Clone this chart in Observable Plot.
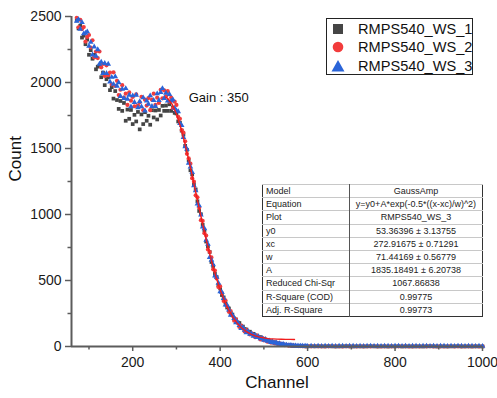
<!DOCTYPE html>
<html>
<head>
<meta charset="utf-8">
<script src="https://cdn.jsdelivr.net/npm/d3@7"></script>
<script src="https://cdn.jsdelivr.net/npm/@observablehq/plot@0.6"></script>
<style>
  body { margin: 0; background: #fff; font-family: Arial, "Liberation Sans", sans-serif; }
  #wrap { position: relative; width: 497px; height: 398px; }
  #legend { position: absolute; left: 326px; top: 18px; width: 147px; height: 57px; border: 1px solid #222; background: #fff; box-sizing: border-box; }
  .lrow { position: absolute; left: 0; height: 18px; font-size: 14.6px; color: #111; white-space: nowrap; }
  .lrow svg { position: absolute; left: 4px; top: 2px; }
  .lrow span { position: absolute; left: 31px; top: 0; line-height: 18px; }
  #fit { position: absolute; left: 262px; top: 184px; border-collapse: collapse; border: 1.5px solid #333; background: #fff; font-size: 9px; color: #222; }
  #fit td { height: 12.2px; padding: 0 3px; border-top: 1px solid #c8c8c8; line-height: 12px; white-space: nowrap; }
  #fit td:first-child { width: 80px; border-right: 1.5px solid #555; }
  #fit td:last-child { width: 126px; text-align: center; }
</style>
</head>
<body>
<div id="wrap"></div>
<script>
// ---- data ----
const channels = [72,76,80,84,88,92,96,100,104,108,112,116,120,124,128,132,136,140,144,148,152,156,160,164,168,172,176,180,184,188,192,196,200,204,208,212,216,220,224,228,232,236,240,244,248,252,256,260,264,268,272,276,280,284,288,292,296,300,304,308,312,316,320,324,328,332,336,340,344,348,352,356,360,364,368,372,376,380,384,388,392,396,400,404,408,412,416,420,424,428,432,436,440,444,448,452,456,460,464,468,472,476,480,484,488,492,496,500,504,508,512,516,520,524,528,532,536,540,544,548,552,556,560,564,568,572,576,580,584,588,592,596,600];

const ws1 = [2470,2410,2430,2340,2355,2290,2325,2210,2245,2180,2210,2100,2120,2128,2040,2075,1980,2025,2040,1942,1965,1878,1935,1867,1800,1860,1785,1845,1710,1795,1725,1792,1685,1755,1705,1777,1645,1758,1685,1775,1710,1748,1680,1790,1735,1788,1720,1792,1750,1823,1785,1825,1785,1835,1785,1810,1770,1765,1705,1695,1635,1605,
  1520,1490,1410,1335,1305,1229,1190,1100,1027,1002,921,878,795,760,716,640,610,550,526,465,440,390,372,333,295,288,255,242,213,205,182,178,157,151,132,129,112,112,96,96,83,83,71,71,60,59,48,49,39,40,32,32,25,25,20,19,14,14,11,10,8,7,6,5,4,4,3,3,2,2,1];

const ws2 = [2490,2418,2475,2405,2420,2310,2345,2360,2265,2320,2190,2235,2185,2235,2115,2140,2050,2130,2055,2075,1985,2077,1975,2013,1905,1945,1980,1885,1915,1830,1925,1862,1890,1820,1910,1825,1850,1892,1790,1870,1825,1882,1790,1870,1915,1830,1885,1845,1945,1880,1940,1895,1935,1855,1885,1805,1855,1830,1740,1725,1640,1620,
  1555,1460,1425,1385,1275,1249,1145,1130,1052,957,951,858,840,735,716,675,585,575,516,450,455,405,345,350,305,263,268,233,195,205,180,148,159,137,114,125,110,91,100,86,70,82,72,53,66,47,53,36,46,30,36,24,29,18,23,13,17,10,13,7,10,5,7,4,5,3,3,2,3,1,1];

const ws3 = [2465,2478,2405,2455,2370,2375,2385,2275,2305,2210,2270,2200,2250,2140,2155,2070,2145,2070,2140,2005,2040,1987,2045,1973,2000,1895,1950,1880,1955,1875,1905,1817,1900,1850,1905,1810,1855,1817,1885,1785,1860,1837,1900,1820,1865,1820,1915,1865,1925,1955,1880,1920,1860,1910,1860,1870,1805,1785,1780,1690,1675,1585,
  1515,1495,1390,1360,1320,1219,1180,1080,1067,997,906,893,805,775,676,655,620,535,526,480,415,410,365,315,312,277,238,238,213,180,184,161,137,143,124,106,113,94,96,79,85,70,74,59,63,48,54,41,44,32,35,27,30,20,22,15,18,11,12,8,10,7,5,6,4,3,4,3,1,3,1];

// flat tail beyond channel 600
const tailChannels = [608,616,624,632,640,648,656,664,672,680,688,696,704,712,720,728,736,744,752,760,768,776,784,792,800,808,816,824,832,840,848,856,864,872,880,888,896,904,912,920,928,936,944,952,960,968,976,984,992,1000];
const tail1 = [2,1,2,1,1,2,1,0,1,1,2,1,0,1,1,0,1,2,1,0,1,1,0,1,1,2,0,1,1,0,1,1,0,1,2,1,0,1,1,0,1,1,2,0,1,1,0,1,1,0];
const tail2 = [1,2,1,1,0,1,2,1,1,0,1,1,2,0,1,1,1,0,2,1,0,1,1,1,0,1,2,1,0,1,1,0,2,1,1,0,1,1,0,1,2,0,1,1,0,1,1,1,0,1];
const tail3 = [3,2,3,2,4,2,3,2,3,3,2,4,3,2,3,2,3,4,2,3,2,3,3,2,4,3,2,3,2,3,3,2,3,4,2,3,2,3,3,2,3,2,4,3,2,3,3,2,3,2];

// GaussAmp fit curve (RMPS540_WS_3)
const fitX = [276,280,290,300,310,320,330,340,350,360,370,380,390,400,410,420,430,440,450,460,470,480,490,500,510,520,530,540,550,560,570];
const fitY = [1886,1879,1836,1761,1657,1530,1387,1234,1078,926,782,650,532,430,344,273,217,172,138,113,94,81,71,65,60,58,56,55,54,54,53];

const seriesNames = ["RMPS540_WS_1","RMPS540_WS_2","RMPS540_WS_3"];
const seriesColors = ["#454545","#f23c3c","#2a64d8"];
const seriesSymbols = ["square","circle","triangle"];

const yMajor = [0,500,1000,1500,2000,2500];
const yMinor = [250,750,1250,1750,2250];
const xMajor = [200,400,600,800,1000];
const xMinor = [100,300,500,700,900];

const annotation = [{x: 328, y: 1883, text: "Gain : 350"}];

const fitRows = [
  ["Model","GaussAmp"],
  ["Equation","y=y0+A*exp(-0.5*((x-xc)/w)^2)"],
  ["Plot","RMPS540_WS_3"],
  ["y0","53.36396 \u00b1 3.13755"],
  ["xc","272.91675 \u00b1 0.71291"],
  ["w","71.44169 \u00b1 0.56779"],
  ["A","1835.18491 \u00b1 6.20738"],
  ["Reduced Chi-Sqr","1067.86838"],
  ["R-Square (COD)","0.99775"],
  ["Adj. R-Square","0.99773"]
];

// ---- build tables ----
const rows = [];
[ws1, ws2, ws3].forEach((vals, s) => {
  channels.forEach((c, i) => rows.push({x: c, y: vals[i], s}));
});
[tail1, tail2, tail3].forEach((vals, s) => {
  tailChannels.forEach((c, i) => rows.push({x: c, y: vals[i], s}));
});
const fit = fitX.map((x, i) => ({x, y: fitY[i]}));

const axisColor = "#5c5c5c";
const font = "Arial, 'Liberation Sans', sans-serif";

const chart = Plot.plot({
  width: 497,
  height: 398,
  marginLeft: 71,
  marginRight: 15,
  marginTop: 16,
  marginBottom: 52,
  style: {fontFamily: font, background: "#fff"},
  x: {domain: [60, 1000]},
  y: {domain: [0, 2500]},
  marks: [
    ...[0, 1, 2].map(s => Plot.dot(rows.filter(d => d.s === s), {
      x: "x", y: "y", r: 2.1, symbol: () => seriesSymbols[s], fill: seriesColors[s], stroke: "none"
    })),
    Plot.line(fit, {x: "x", y: "y", stroke: "#f01c1c", strokeWidth: 1.4}),
    Plot.axisY({ticks: yMajor, tickSize: 6, tickPadding: 4, fontSize: 14, stroke: axisColor, strokeWidth: 1.5, color: "#1a1a1a", label: null, tickFormat: d => String(d)}),
    Plot.axisY({ticks: yMinor, tickSize: 3.5, stroke: axisColor, strokeWidth: 1.5, label: null, tickFormat: () => ""}),
    Plot.axisX({ticks: xMajor, tickSize: 5, tickPadding: 6, fontSize: 14, stroke: axisColor, strokeWidth: 1.5, color: "#1a1a1a", label: null, tickFormat: d => String(d)}),
    Plot.axisX({ticks: xMinor, tickSize: 3.5, stroke: axisColor, strokeWidth: 1.5, label: null, tickFormat: () => ""}),
    Plot.ruleX([60], {stroke: axisColor, strokeWidth: 2}),
    Plot.ruleY([0], {stroke: axisColor, strokeWidth: 2}),
    Plot.text(annotation, {x: "x", y: "y", text: "text", textAnchor: "start", fontSize: 13, fill: "#111"}),
    Plot.text(["Count"], {frameAnchor: "left", dx: -56, rotate: -90, fontSize: 17, fill: "#111"}),
    Plot.text(["Channel"], {frameAnchor: "bottom", dy: 41, fontSize: 17, fill: "#111"})
  ]
});

const wrap = document.getElementById("wrap");
wrap.appendChild(chart);

// legend (inside plot area, like the original)
const legend = document.createElement("div");
legend.id = "legend";
seriesNames.forEach((name, i) => {
  const row = document.createElement("div");
  row.className = "lrow";
  row.style.top = (1 + i * 18.4) + "px";
  let shape;
  if (seriesSymbols[i] === "square") shape = `<rect x="2" y="2" width="10" height="10" fill="${seriesColors[i]}"/>`;
  else if (seriesSymbols[i] === "circle") shape = `<circle cx="7" cy="7" r="5.3" fill="${seriesColors[i]}"/>`;
  else shape = `<polygon points="7,1 13.5,12.5 0.5,12.5" fill="${seriesColors[i]}"/>`;
  row.innerHTML = `<svg width="14" height="14">${shape}</svg><span>${name}</span>`;
  legend.appendChild(row);
});
wrap.appendChild(legend);

// fit results table
const table = document.createElement("table");
table.id = "fit";
fitRows.forEach(r => {
  const tr = document.createElement("tr");
  r.forEach(c => { const td = document.createElement("td"); td.textContent = c; tr.appendChild(td); });
  table.appendChild(tr);
});
wrap.appendChild(table);
</script>
</body>
</html>
